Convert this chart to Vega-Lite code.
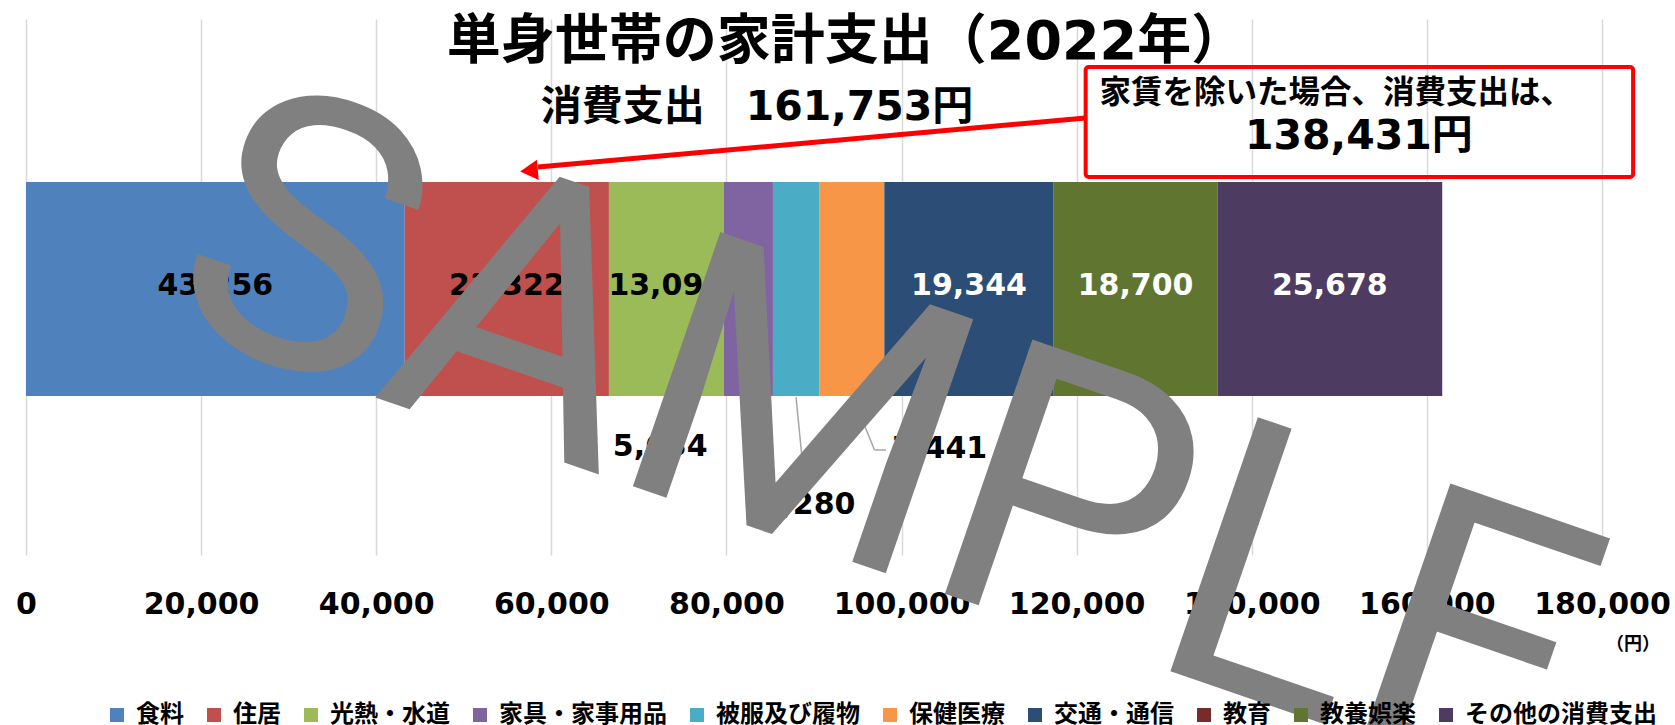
{
  "$schema": "https://vega.github.io/schema/vega-lite/v6.json",
  "width": 1576,
  "height": 536,
  "autosize": "none",
  "padding": {"left": 26, "top": 19, "right": 73, "bottom": 170},
  "background": "white",
  "config": {"view": {"stroke": null}},
  "datasets": {
    "exp": [
      {"i": 1, "cat": "食料", "value": 43256},
      {"i": 2, "cat": "住居", "value": 23322},
      {"i": 3, "cat": "光熱・水道", "value": 13098},
      {"i": 4, "cat": "家具・家事用品", "value": 5634},
      {"i": 5, "cat": "被服及び履物", "value": 5280},
      {"i": 6, "cat": "保健医療", "value": 7441},
      {"i": 7, "cat": "交通・通信", "value": 19344},
      {"i": 8, "cat": "教育", "value": 0},
      {"i": 9, "cat": "教養娯楽", "value": 18700},
      {"i": 10, "cat": "その他の消費支出", "value": 25678}
    ]
  },
  "data": {"name": "exp"},
  "transform": [
    {"stack": "value", "groupby": [], "sort": [{"field": "i", "order": "ascending"}], "as": ["x0", "x1"]},
    {"calculate": "(datum.x0 + datum.x1) / 2", "as": "mid"}
  ],
  "layer": [
    {
      "mark": {"type": "bar", "stroke": null},
      "encoding": {
        "x": {
          "field": "x0", "type": "quantitative",
          "scale": {"domain": [0, 180000], "nice": false, "zero": true},
          "axis": {
            "title": null, "values": [0, 20000, 40000, 60000, 80000, 100000, 120000, 140000, 160000, 180000],
            "format": ",d", "domain": false, "ticks": false, "grid": true, "gridColor": "#D9D9D9", "gridWidth": 1.5,
            "labelFont": "DejaVu Sans", "labelFontSize": 30, "labelFontWeight": "bold", "labelColor": "black",
            "labelPadding": 34, "labelOverlap": false, "labelBound": false, "labelFlush": false
          }
        },
        "x2": {"field": "x1"},
        "y": {"datum": 29.66, "type": "quantitative", "scale": {"domain": [0, 100], "nice": false, "zero": false}, "axis": null},
        "y2": {"datum": 69.59},
        "color": {
          "field": "cat", "type": "nominal",
          "sort": ["食料", "住居", "光熱・水道", "家具・家事用品", "被服及び履物", "保健医療", "交通・通信", "教育", "教養娯楽", "その他の消費支出"],
          "scale": {
            "domain": ["食料", "住居", "光熱・水道", "家具・家事用品", "被服及び履物", "保健医療", "交通・通信", "教育", "教養娯楽", "その他の消費支出"],
            "range": ["#4F81BD", "#C0504D", "#9BBB59", "#8064A2", "#4BACC6", "#F79646", "#2C4D75", "#772C2A", "#5F7530", "#4D3B62"]
          },
          "legend": {
            "title": null, "orient": "none", "legendX": 79, "legendY": 684, "direction": "horizontal", "columns": 10,
            "symbolType": "square", "symbolSize": 196, "symbolStrokeWidth": 0, "labelFont": "Noto Sans CJK JP",
            "labelFontSize": 24, "labelFontWeight": "bold", "labelColor": "black", "columnPadding": 18,
            "labelOffset": 7, "labelLimit": 400, "padding": 0
          }
        }
      }
    },
    {
      "transform": [{"filter": "datum.value >= 10000"}],
      "mark": {"type": "text", "font": "DejaVu Sans", "fontSize": 30, "fontWeight": "bold", "align": "center", "baseline": "middle"},
      "encoding": {
        "x": {"field": "mid", "type": "quantitative"},
        "y": {"datum": 50.19},
        "text": {"field": "value", "type": "quantitative", "format": ","},
        "color": {"condition": {"test": "indexof(['交通・通信','教養娯楽','その他の消費支出'], datum.cat) >= 0", "value": "white"}, "value": "black"}
      }
    },
    {
      "data": {"values": [{}]},
      "mark": {"type": "rule", "color": "#A6A6A6", "strokeWidth": 1.5},
      "encoding": {"x": {"datum": 94455}, "y": {"datum": 29.48}, "x2": {"datum": 96910}, "y2": {"datum": 19.59}}
    },
    {
      "data": {"values": [{}]},
      "mark": {"type": "rule", "color": "#A6A6A6", "strokeWidth": 1.5},
      "encoding": {"x": {"datum": 96910}, "y": {"datum": 19.59}, "x2": {"datum": 98223}, "y2": {"datum": 19.59}}
    },
    {
      "data": {"values": [{}]},
      "mark": {"type": "rule", "color": "#A6A6A6", "strokeWidth": 1.5},
      "encoding": {"x": {"datum": 87944}, "y": {"datum": 29.48}, "x2": {"datum": 88972}, "y2": {"datum": 12.5}}
    },
    {
      "transform": [{"filter": "datum.cat == '家具・家事用品'"}],
      "mark": {"type": "text", "font": "DejaVu Sans", "fontSize": 30, "fontWeight": "bold", "align": "center", "baseline": "middle", "dx": -88, "color": "black"},
      "encoding": {"x": {"field": "mid", "type": "quantitative"}, "y": {"datum": 20.15}, "text": {"field": "value", "type": "quantitative", "format": ","}}
    },
    {
      "transform": [{"filter": "datum.cat == '被服及び履物'"}],
      "mark": {"type": "text", "font": "DejaVu Sans", "fontSize": 30, "fontWeight": "bold", "align": "center", "baseline": "middle", "dx": 12, "color": "black"},
      "encoding": {"x": {"field": "mid", "type": "quantitative"}, "y": {"datum": 9.33}, "text": {"field": "value", "type": "quantitative", "format": ","}}
    },
    {
      "transform": [{"filter": "datum.cat == '保健医療'"}],
      "mark": {"type": "text", "font": "DejaVu Sans", "fontSize": 30, "fontWeight": "bold", "align": "center", "baseline": "middle", "dx": 88, "color": "black"},
      "encoding": {"x": {"field": "mid", "type": "quantitative"}, "y": {"datum": 19.78}, "text": {"field": "value", "type": "quantitative", "format": ","}}
    },
    {
      "data": {"values": [{"t": "単身世帯の家計支出（2022年）"}]},
      "mark": {"type": "text", "font": "DejaVu Sans, Noto Sans CJK JP", "fontSize": 54, "fontWeight": "bold", "align": "center", "baseline": "middle", "color": "black"},
      "encoding": {"x": {"datum": 93655}, "y": {"datum": 95.5}, "text": {"field": "t"}}
    },
    {
      "data": {"values": [{"t": "消費支出　161,753円"}]},
      "mark": {"type": "text", "font": "DejaVu Sans, Noto Sans CJK JP", "fontSize": 41, "fontWeight": "bold", "align": "center", "baseline": "middle", "color": "black"},
      "encoding": {"x": {"datum": 83490}, "y": {"datum": 83.4}, "text": {"field": "t"}}
    },
    {
      "data": {"values": [{}]},
      "mark": {"type": "rect", "fill": null, "stroke": "#FF0000", "strokeWidth": 4, "cornerRadius": 3},
      "encoding": {"x": {"datum": 121028}, "x2": {"datum": 183553}, "y": {"datum": 91.04}, "y2": {"datum": 70.52}}
    },
    {
      "data": {"values": [{"t": "家賃を除いた場合、消費支出は、"}]},
      "mark": {"type": "text", "font": "Noto Sans CJK JP", "fontSize": 31.5, "fontWeight": "bold", "align": "center", "baseline": "middle", "color": "black"},
      "encoding": {"x": {"datum": 149600}, "y": {"datum": 86.1}, "text": {"field": "t"}}
    },
    {
      "data": {"values": [{"t": "138,431円"}]},
      "mark": {"type": "text", "font": "DejaVu Sans, Noto Sans CJK JP", "fontSize": 41, "fontWeight": "bold", "align": "center", "baseline": "middle", "color": "black"},
      "encoding": {"x": {"datum": 152229}, "y": {"datum": 77.9}, "text": {"field": "t"}}
    },
    {
      "data": {"values": [{}]},
      "mark": {"type": "rule", "color": "#FF0000", "strokeWidth": 5},
      "encoding": {"x": {"datum": 121028}, "y": {"datum": 81.53}, "x2": {"datum": 58477}, "y2": {"datum": 72.39}}
    },
    {
      "data": {"values": [{}]},
      "mark": {"type": "point", "shape": "triangle-left", "filled": true, "color": "#FF0000", "size": 420, "angle": 355, "opacity": 1},
      "encoding": {"x": {"datum": 57450}, "y": {"datum": 71.7}}
    },
    {
      "data": {"values": [{"t": "（円）"}]},
      "mark": {"type": "text", "font": "Noto Sans CJK JP", "fontSize": 18, "fontWeight": "bold", "align": "center", "baseline": "middle", "color": "black"},
      "encoding": {"x": {"datum": 183553}, "y": {"datum": -16.8}, "text": {"field": "t"}}
    },
    {
      "data": {"values": [{"t": "SAMPLE"}]},
      "mark": {"type": "text", "font": "Roboto", "fontSize": 378, "align": "center", "baseline": "middle", "angle": 19, "color": "#808080"},
      "encoding": {"x": {"datum": 98000}, "y": {"datum": 19.0}, "text": {"field": "t"}}
    }
  ]
}
